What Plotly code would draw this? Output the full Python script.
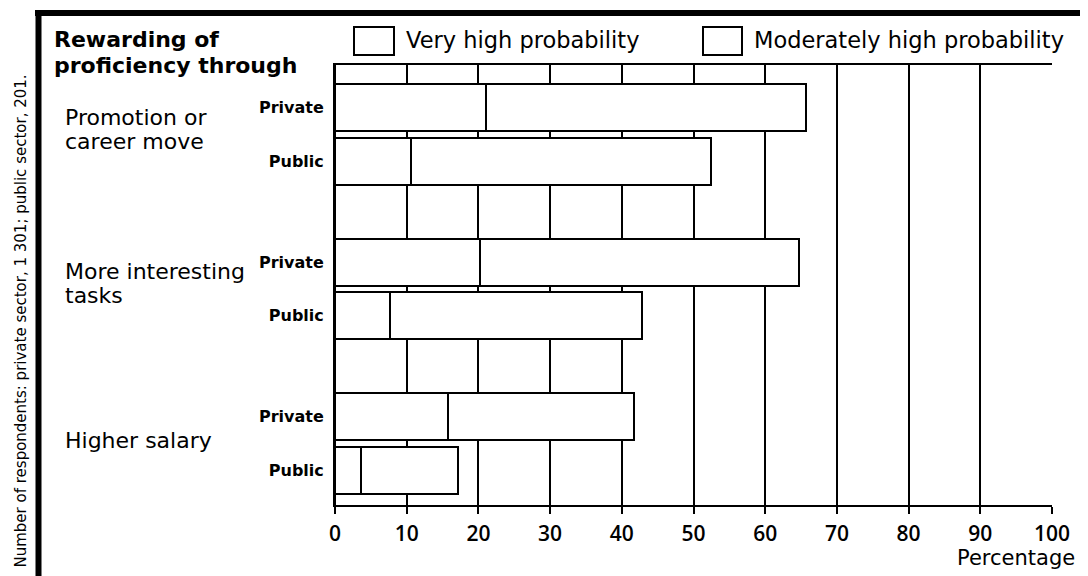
import plotly.graph_objects as go

# Данные
groups = ["Promotion or<br>career move", "More interesting<br>tasks", "Higher salary"]
sectors = ["Private", "Public"]
very_high = [21.1, 10.6, 20.2, 7.7, 15.8, 3.6]
moderately_high = [44.6, 41.8, 44.5, 35.1, 25.9, 13.6]
x_ticks = [0, 10, 20, 30, 40, 50, 60, 70, 80, 90, 100]

# страница 1088x576, у body есть отступ 8px
OFF = 8
W, H = 1088 - OFF, 576 - OFF
PL, PR, PT, PB = 335, 1052, 65, 505  # область графика в пикселях страницы
TXT = "DejaVu Sans"
NUM = "Open Sans"


def px_x(px):
    return (px - PL) / (PR - PL)


def px_y(py):
    return (PB - py) / (PB - PT)


# позиции полос: группа + сектор
y_pos = []
y_text = []
for g in range(len(groups)):
    for s, sec in enumerate(sectors):
        y_pos.append(0.425 + g * 1.545 + s * 0.535)
        y_text.append(sec)

bar_style = dict(color="white", line=dict(color="black", width=2))

fig = go.Figure()
fig.add_trace(go.Bar(y=y_pos, x=very_high, orientation="h", width=0.47,
                     marker=bar_style, name="Very high probability", showlegend=False))
fig.add_trace(go.Bar(y=y_pos, x=moderately_high, orientation="h", width=0.47,
                     marker=bar_style, name="Moderately high probability", showlegend=False))

fig.update_layout(
    width=W, height=H,
    barmode="stack",
    plot_bgcolor="white", paper_bgcolor="white",
    margin=dict(l=PL - OFF, r=W - (PR - OFF), t=PT - OFF, b=H - (PB - OFF), autoexpand=False),
    font=dict(family=TXT, color="black"),
)

fig.update_xaxes(
    range=[0, 100], tickvals=x_ticks, showgrid=True, gridcolor="black", gridwidth=2,
    showline=True, mirror=True, linecolor="black", linewidth=2,
    ticks="outside", ticklen=7, tickwidth=2, tickcolor="black",
    zeroline=True, zerolinecolor="black", zerolinewidth=2, ticklabelstandoff=2,
    tickfont=dict(size=21, family=NUM, weight=600),
)
fig.update_yaxes(
    range=[4.40, 0], tickvals=y_pos, ticktext=y_text, showgrid=False, zeroline=False,
    showline=True, linecolor="black", linewidth=2, ticks="", ticklabelstandoff=6,
    tickfont=dict(size=16, family=TXT, weight="bold"),
)

# подписи групп (по строкам)
group_y = [117, 271, 440]
for g, name in enumerate(groups):
    for i, line in enumerate(name.split("<br>")):
        fig.add_annotation(text=line, x=px_x(63), y=px_y(group_y[g] + i * 24),
                           xref="paper", yref="paper", xanchor="left", yanchor="middle",
                           showarrow=False, font=dict(size=22, family=TXT))

for i, line in enumerate(["Rewarding of", "proficiency through"]):
    fig.add_annotation(text="<b>%s</b>" % line, x=px_x(52), y=px_y(40 + i * 25),
                       xref="paper", yref="paper", xanchor="left", yanchor="middle",
                       showarrow=False, font=dict(size=22, family=TXT))

fig.add_annotation(text="Percentage", x=px_x(1077), y=px_y(558), xref="paper", yref="paper",
                   xanchor="right", yanchor="middle", showarrow=False,
                   font=dict(size=21, family=TXT))

fig.add_annotation(text="Number of respondents: private sector, 1 301; public sector, 201.",
                   x=px_x(20), y=px_y(73), xref="paper", yref="paper", textangle=-90,
                   xanchor="center", yanchor="top", showarrow=False,
                   font=dict(size=15, family=TXT))

# легенда вручную
legend_items = [("Very high probability", 354, 394), ("Moderately high probability", 703, 742)]
for label, x0, x1 in legend_items:
    fig.add_shape(type="rect", xref="paper", yref="paper", x0=px_x(x0), x1=px_x(x1),
                  y0=px_y(55), y1=px_y(27), line=dict(color="black", width=2), fillcolor="white")
    fig.add_annotation(text=label, x=px_x(x1 + 10), y=px_y(40), xref="paper", yref="paper",
                       xanchor="left", yanchor="middle", showarrow=False,
                       font=dict(size=22.5, family=TXT))

# рамка
fig.add_shape(type="line", xref="paper", yref="paper", x0=px_x(35), x1=px_x(1090),
              y0=px_y(13), y1=px_y(13), line=dict(color="black", width=6))
fig.add_shape(type="line", xref="paper", yref="paper", x0=px_x(38.5), x1=px_x(38.5),
              y0=px_y(10), y1=px_y(580), line=dict(color="black", width=6))

fig.write_html("out.html")
